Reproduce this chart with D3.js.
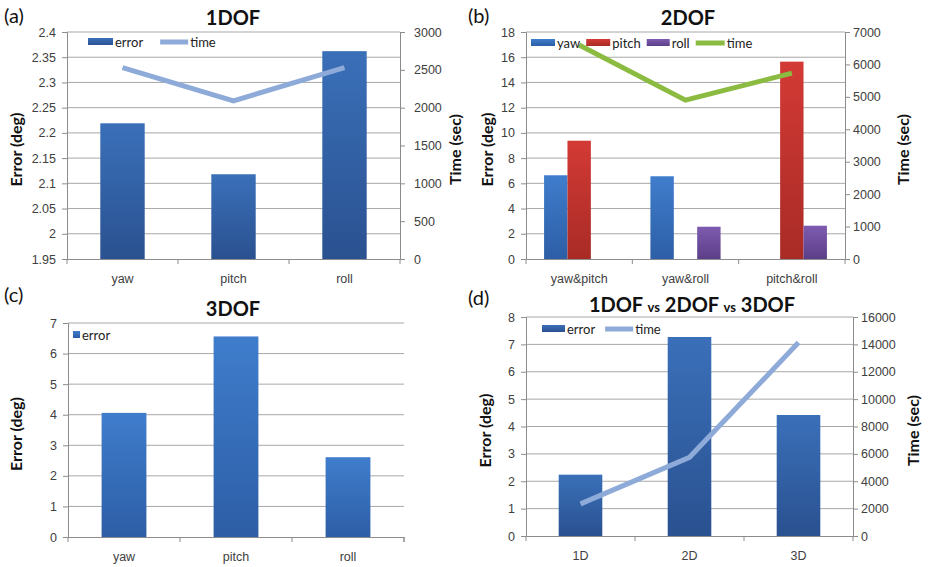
<!DOCTYPE html>
<html>
  <head>
    <meta charset="utf-8" />
    <script src="https://d3js.org/d3.v7.min.js"></script>
    <style>
      body { margin: 0px; background: #fff; }
      svg { font-family: Lato, "Open Sans", sans-serif; }
      .tick text { fill: #404040; font-size: 12.5px; }
      .tick line { stroke: #8c8c8c; }
      .domain { stroke: #8c8c8c; }
      .axis-label { font-size: 16px; font-weight: bold; fill: #111; }
      .title { font-size: 20px; font-weight: bold; fill: #111; }
      .panel-tag { font-size: 20px; fill: #111; }
      .legend text { font-size: 13px; fill: #222; }
    </style>
  </head>
  <body>
    <svg width="929" height="567"></svg>
    <script>
      // (a) 1DOF
      const dof1Cats = ["yaw", "pitch", "roll"];
      const dof1Error = [2.219, 2.118, 2.362];
      const dof1Time = [2530, 2090, 2530];
      const dof1ErrTicks = [1.95, 2, 2.05, 2.1, 2.15, 2.2, 2.25, 2.3, 2.35, 2.4];
      const dof1TimeTicks = [0, 500, 1000, 1500, 2000, 2500, 3000];

      // (b) 2DOF
      const dof2Cats = ["yaw&pitch", "yaw&roll", "pitch&roll"];
      const dof2Series = ["yaw", "pitch", "roll"];
      const dof2Yaw = [6.64, 6.56, null];
      const dof2Pitch = [9.38, null, 15.65];
      const dof2Roll = [null, 2.56, 2.64];
      const dof2Time = [6600, 4900, 5730];
      const dof2ErrTicks = [0, 2, 4, 6, 8, 10, 12, 14, 16, 18];
      const dof2TimeTicks = [0, 1000, 2000, 3000, 4000, 5000, 6000, 7000];

      // (c) 3DOF
      const dof3Cats = ["yaw", "pitch", "roll"];
      const dof3Error = [4.06, 6.56, 2.61];
      const dof3ErrTicks = [0, 1, 2, 3, 4, 5, 6, 7];

      // (d) comparison
      const compCats = ["1D", "2D", "3D"];
      const compError = [2.24, 7.27, 4.42];
      const compTime = [2350, 5750, 14130];
      const compErrTicks = [0, 1, 2, 3, 4, 5, 6, 7, 8];
      const compTimeTicks = [0, 2000, 4000, 6000, 8000, 10000, 12000, 14000, 16000];

      const svg = d3.select("svg");
      const defs = svg.append("defs");

      function grad(id, top, bottom) {
        const g = defs.append("linearGradient").attr("id", id)
          .attr("x1", 0).attr("y1", 0).attr("x2", 0).attr("y2", 1);
        g.append("stop").attr("offset", "0%").attr("stop-color", top);
        g.append("stop").attr("offset", "100%").attr("stop-color", bottom);
        return `url(#${id})`;
      }
      const darkBlue = grad("gDark", "#3a70b9", "#2a5190");
      const blue = grad("gBlue", "#3f7dcc", "#2d5ea6");
      const red = grad("gRed", "#d33a35", "#a92b26");
      const purple = grad("gPurple", "#7e5bb0", "#5c3f88");
      const steel = "#8eaad8";
      const green = "#8cbb41";

      function drawPanel(p) {
        const g = svg.append("g");
        const x = d3.scaleBand().domain(p.cats).range([p.l, p.r]).padding(0);
        const y = d3.scaleLinear().domain(d3.extent(p.yTicks)).range([p.b, p.t]);

        // grid
        g.append("g").selectAll("line").data(p.yTicks.slice(1)).join("line")
          .attr("x1", p.l).attr("x2", p.r)
          .attr("y1", d => y(d)).attr("y2", d => y(d))
          .attr("stroke", "#a8a8a8").attr("stroke-width", 1);

        // bars
        const inner = d3.scaleBand().domain(p.series.map(s => s.name))
          .range([x.bandwidth() * p.gap, x.bandwidth() * (1 - p.gap)]);
        p.series.forEach(s => {
          g.append("g").selectAll("rect")
            .data(p.cats.map((c, i) => ({ c, v: s.values[i] })).filter(d => d.v != null))
            .join("rect")
            .attr("x", d => x(d.c) + inner(s.name))
            .attr("width", inner.bandwidth())
            .attr("y", d => y(d.v))
            .attr("height", d => p.b - y(d.v))
            .attr("fill", s.fill);
        });

        // axes
        const yAxis = d3.axisLeft(y).tickValues(p.yTicks).tickSize(5).tickPadding(6)
          .tickFormat(d => String(d));
        g.append("g").attr("transform", `translate(${p.l},0)`).call(yAxis);

        const xAxisG = g.append("g").attr("transform", `translate(0,${p.b})`)
          .call(d3.axisBottom(x).tickSize(0).tickPadding(15));
        xAxisG.append("g").selectAll("line").data(d3.range(p.cats.length + 1)).join("line")
          .attr("x1", i => p.l + i * x.step()).attr("x2", i => p.l + i * x.step())
          .attr("y1", 0).attr("y2", 5).attr("stroke", "#8c8c8c");

        if (p.y2Ticks) {
          const y2 = d3.scaleLinear().domain(d3.extent(p.y2Ticks)).range([p.b, p.t]);
          g.append("g").attr("transform", `translate(${p.r},0)`)
            .call(d3.axisRight(y2).tickValues(p.y2Ticks).tickSize(5).tickPadding(p.y2Pad)
              .tickFormat(d => String(d)));
          const line = d3.line().x((d, i) => x(p.cats[i]) + x.bandwidth() / 2).y(d => y2(d));
          g.append("path").datum(p.time).attr("d", line)
            .attr("fill", "none").attr("stroke", p.timeColor).attr("stroke-width", 5);
          g.append("text").attr("class", "axis-label")
            .attr("transform", `translate(${p.y2LabelX},${(p.t + p.b) / 2 + 4}) rotate(-90)`)
            .attr("text-anchor", "middle").attr("dy", "0.35em").text("Time (sec)");
        } else {
          g.append("line").attr("x1", p.r).attr("x2", p.r).attr("y1", p.b).attr("y2", p.b + 5)
            .attr("stroke", "#8c8c8c");
        }

        g.append("text").attr("class", "axis-label")
          .attr("transform", `translate(${p.yLabelX},${(p.t + p.b) / 2 + 4}) rotate(-90)`)
          .attr("text-anchor", "middle").attr("dy", "0.35em").text("Error (deg)");

        // title and tag
        const title = g.append("text").attr("class", "title")
          .attr("x", p.titleX).attr("y", p.titleY).attr("text-anchor", "middle");
        p.title.forEach(part => {
          title.append("tspan").text(part.t).style("font-size", part.small ? "13px" : null);
        });
        g.append("text").attr("class", "panel-tag").attr("x", p.tagX).attr("y", p.tagY).text(p.tag);

        // legend
        const lg = g.append("g").attr("class", "legend")
          .attr("transform", `translate(${p.legX},${p.legY})`);
        let cx = 0;
        p.legend.forEach(item => {
          if (item.type === "bar") {
            lg.append("rect").attr("x", cx).attr("y", -4).attr("width", item.w).attr("height", 7)
              .attr("fill", item.fill);
          } else {
            lg.append("line").attr("x1", cx).attr("x2", cx + item.w).attr("y1", 0).attr("y2", 0)
              .attr("stroke", item.color).attr("stroke-width", 5);
          }
          const t = lg.append("text").attr("x", cx + item.w + 2).attr("y", 4.5).text(item.name);
          cx += item.w + 2 + t.node().getComputedTextLength() + item.after;
        });
      }

      drawPanel({
        l: 67, r: 400, t: 32, b: 259, gap: 0.3,
        cats: dof1Cats, yTicks: dof1ErrTicks, y2Ticks: dof1TimeTicks, y2Pad: 9,
        series: [{ name: "error", values: dof1Error, fill: darkBlue }],
        time: dof1Time, timeColor: steel,
        yLabelX: 16, y2LabelX: 455,
        title: [{ t: "1DOF" }], titleX: 233, titleY: 25, tag: "(a)", tagX: 4, tagY: 23,
        legX: 88, legY: 42,
        legend: [
          { type: "bar", name: "error", w: 25, fill: darkBlue, after: 17 },
          { type: "line", name: "time", w: 28, color: steel, after: 0 }
        ]
      });

      drawPanel({
        l: 526, r: 845, t: 32, b: 259, gap: 0.17,
        cats: dof2Cats, yTicks: dof2ErrTicks, y2Ticks: dof2TimeTicks, y2Pad: 3,
        series: [
          { name: dof2Series[0], values: dof2Yaw, fill: blue },
          { name: dof2Series[1], values: dof2Pitch, fill: red },
          { name: dof2Series[2], values: dof2Roll, fill: purple }
        ],
        time: dof2Time, timeColor: green,
        yLabelX: 487, y2LabelX: 903,
        title: [{ t: "2DOF" }], titleX: 688, titleY: 25, tag: "(b)", tagX: 468, tagY: 23,
        legX: 531, legY: 43,
        legend: [
          { type: "bar", name: "yaw", w: 24, fill: blue, after: 6 },
          { type: "bar", name: "pitch", w: 24, fill: red, after: 6 },
          { type: "bar", name: "roll", w: 23, fill: purple, after: 6 },
          { type: "line", name: "time", w: 29, color: green, after: 0 }
        ]
      });

      drawPanel({
        l: 68, r: 404, t: 323, b: 537, gap: 0.3,
        cats: dof3Cats, yTicks: dof3ErrTicks,
        series: [{ name: "error", values: dof3Error, fill: blue }],
        yLabelX: 16,
        title: [{ t: "3DOF" }], titleX: 233, titleY: 316, tag: "(c)", tagX: 4, tagY: 302,
        legX: 73, legY: 335,
        legend: [{ type: "bar", name: "error", w: 7, fill: blue, after: 0 }]
      });

      drawPanel({
        l: 526, r: 853, t: 317, b: 536, gap: 0.3,
        cats: compCats, yTicks: compErrTicks, y2Ticks: compTimeTicks, y2Pad: 3,
        series: [{ name: "error", values: compError, fill: darkBlue }],
        time: compTime, timeColor: steel,
        yLabelX: 485, y2LabelX: 913,
        title: [{ t: "1DOF " }, { t: "vs", small: true }, { t: " 2DOF " }, { t: "vs", small: true }, { t: " 3DOF" }],
        titleX: 692, titleY: 312, tag: "(d)", tagX: 468, tagY: 305,
        legX: 542, legY: 329,
        legend: [
          { type: "bar", name: "error", w: 23, fill: darkBlue, after: 10 },
          { type: "line", name: "time", w: 28, color: steel, after: 0 }
        ]
      });
    </script>
  </body>
</html>
